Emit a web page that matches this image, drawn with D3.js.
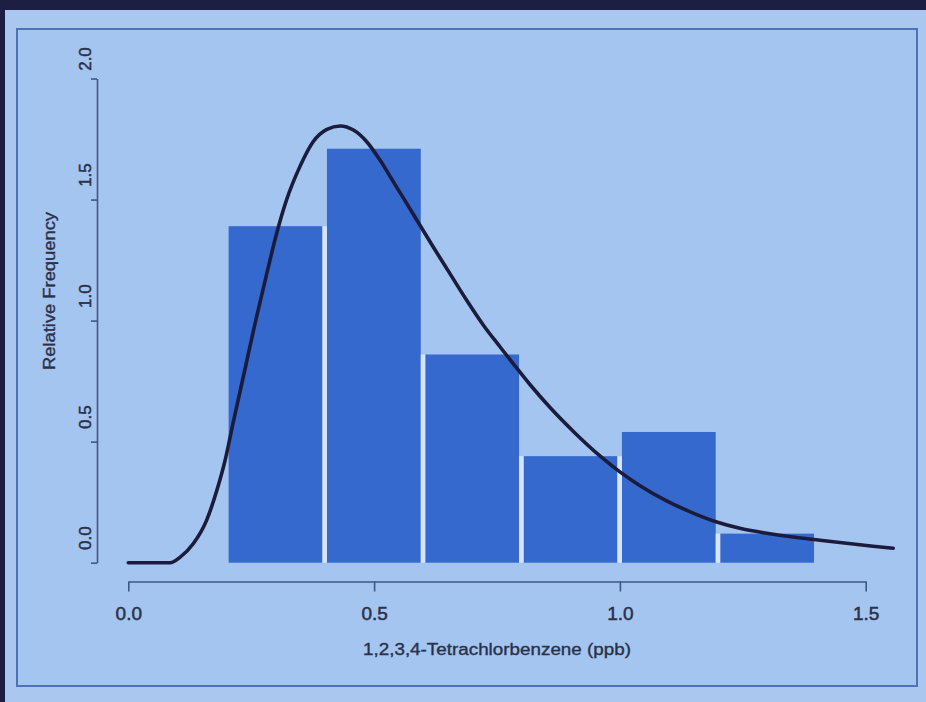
<!DOCTYPE html>
<html>
<head>
<meta charset="utf-8">
<script src="https://cdn.jsdelivr.net/npm/d3@7"></script>
<style>
  html, body { margin: 0; padding: 0; background: #1c1e44; }
  svg { display: block; }
  text { font-family: "Liberation Sans", Arial, Helvetica, sans-serif; fill: #2a3048; }
</style>
</head>
<body>
<script>
// Histogram bins (ppb) and their relative-frequency densities
const binStart = [0.2, 0.4, 0.6, 0.8, 1.0, 1.2];
const binEnd   = [0.4, 0.6, 0.8, 1.0, 1.2, 1.4];
const density  = [1.39, 1.71, 0.86, 0.44, 0.54, 0.12];

// Fitted density curve
const curveX = [0.0, 0.085, 0.105, 0.132, 0.159, 0.180, 0.197, 0.214, 0.237, 0.258,
                0.282, 0.302, 0.322, 0.349, 0.376, 0.404, 0.431, 0.458, 0.485, 0.512,
                0.539, 0.566, 0.593, 0.620, 0.654, 0.688, 0.722, 0.756, 0.783, 0.817,
                0.857, 0.909, 0.960, 1.000, 1.041, 1.095, 1.149, 1.197, 1.244, 1.299,
                1.353, 1.407, 1.461, 1.515, 1.556];
const curveY = [0.0, 0.0, 0.022, 0.078, 0.174, 0.298, 0.424, 0.585, 0.796, 0.990,
                1.197, 1.362, 1.499, 1.636, 1.739, 1.790, 1.804, 1.787, 1.739, 1.663,
                1.574, 1.485, 1.395, 1.305, 1.195, 1.085, 0.982, 0.892, 0.822, 0.736,
                0.643, 0.535, 0.440, 0.375, 0.318, 0.255, 0.205, 0.168, 0.142, 0.122,
                0.106, 0.093, 0.080, 0.068, 0.060];

const xTicks = [0.0, 0.5, 1.0, 1.5];
const yTicks = [0.0, 0.5, 1.0, 1.5, 2.0];
const xTitle = "1,2,3,4-Tetrachlorbenzene (ppb)";
const yTitle = "Relative Frequency";

const W = 926, H = 702;
const svg = d3.select("body").append("svg").attr("width", W).attr("height", H);

// slide background and frame
svg.append("rect").attr("x", 0).attr("y", 0).attr("width", W).attr("height", H).attr("fill", "#1c1e44");
svg.append("rect").attr("x", 5).attr("y", 10).attr("width", W - 5).attr("height", H - 10).attr("fill", "#a9c7ef");
svg.append("rect").attr("x", 17).attr("y", 29).attr("width", 900).attr("height", 657)
  .attr("fill", "#a5c5f1").attr("stroke", "#4d72b6").attr("stroke-width", 2);

const x = d3.scaleLinear().domain([0, 1.5]).range([128.3, 865.7]);
const y = d3.scaleLinear().domain([0, 2]).range([562.7, 78.5]);

const bins = binStart.map((s, i) => ({ s, e: binEnd[i], v: density[i] }));

// bars
svg.append("g").selectAll("rect").data(bins).join("rect")
  .attr("x", d => x(d.s) + 2)
  .attr("width", d => x(d.e) - x(d.s) - 4.5)
  .attr("y", d => y(d.v))
  .attr("height", d => y(0) - y(d.v))
  .attr("fill", "#3569ce");

// light separators between neighbouring bars
const seps = bins.slice(0, -1).map((d, i) => ({ at: d.e, v: Math.min(d.v, bins[i + 1].v) }));
svg.append("g").selectAll("line").data(seps).join("line")
  .attr("x1", d => x(d.at) - 0.25).attr("x2", d => x(d.at) - 0.25)
  .attr("y1", y(0)).attr("y2", d => y(d.v))
  .attr("stroke", "#d6e5f8").attr("stroke-width", 4.5);

// density curve
const pts = curveX.map((v, i) => [v, curveY[i]]);
svg.append("path")
  .attr("d", d3.line().x(d => x(d[0])).y(d => y(d[1])).curve(d3.curveMonotoneX)(pts))
  .attr("fill", "none").attr("stroke", "#1b1c3c").attr("stroke-width", 3.6)
  .attr("stroke-linecap", "round").attr("stroke-linejoin", "round");

// x axis
const gx = svg.append("g").attr("transform", "translate(0,581.5)")
  .call(d3.axisBottom(x).tickValues(xTicks).tickSize(10).tickSizeOuter(0).tickFormat(d3.format(".1f")));
gx.select(".domain").attr("stroke", "#3f5686").attr("stroke-width", 1.6);
gx.selectAll(".tick line").attr("stroke", "#3f5686").attr("stroke-width", 1.6);
gx.selectAll(".tick text").attr("y", 38).attr("dy", null)
  .style("font-size", "19px").style("fill", "#2a3048")
  .style("stroke", "#2a3048").style("stroke-width", "0.5px");

// y axis
const gy = svg.append("g").attr("transform", "translate(97,0)")
  .call(d3.axisLeft(y).tickValues(yTicks).tickSize(6).tickSizeOuter(0).tickFormat(d3.format(".1f")));
gy.select(".domain").attr("stroke", "#3f5686").attr("stroke-width", 1.6);
gy.selectAll(".tick line").attr("stroke", "#3f5686").attr("stroke-width", 1.6);
gy.selectAll(".tick text")
  .attr("x", null).attr("dy", null)
  .attr("text-anchor", "middle")
  .attr("transform", d => d === 2 ? "translate(-6,-20) rotate(-90)" : "translate(-6,-25) rotate(-90)")
  .style("font-size", "17px").style("fill", "#2a3048")
  .style("stroke", "#2a3048").style("stroke-width", "0.5px");

// axis titles
svg.append("text").attr("x", 497).attr("y", 655).attr("text-anchor", "middle")
  .attr("textLength", 268).attr("lengthAdjust", "spacingAndGlyphs")
  .style("font-size", "16px").style("stroke", "#2a3048").style("stroke-width", "0.35px")
  .text(xTitle);
svg.append("text").attr("transform", "translate(55,291) rotate(-90)").attr("text-anchor", "middle")
  .attr("textLength", 158).attr("lengthAdjust", "spacingAndGlyphs")
  .style("font-size", "16px").style("stroke", "#2a3048").style("stroke-width", "0.35px")
  .text(yTitle);
</script>
</body>
</html>
